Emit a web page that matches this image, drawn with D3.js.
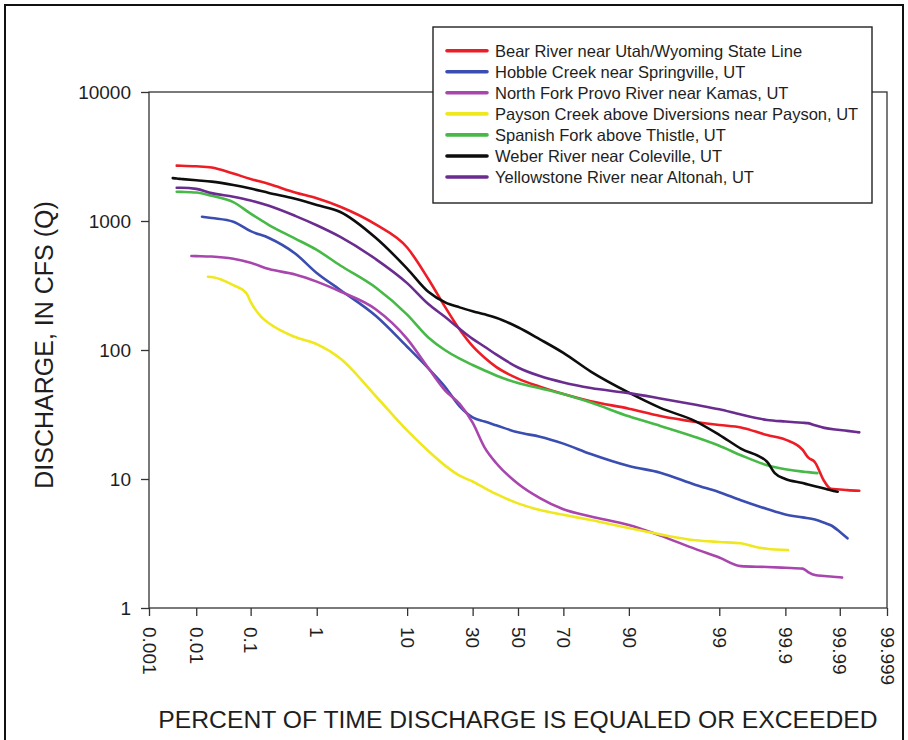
<!DOCTYPE html>
<html><head><meta charset="utf-8">
<script src="https://cdn.jsdelivr.net/npm/d3@7"></script>
<style>
html,body{margin:0;padding:0;background:#fff;}
svg{display:block;font-family:"Liberation Sans",Arial,Helvetica,sans-serif;}
</style></head><body>
<svg id="chart" width="908" height="740"></svg>
<script>
// ---------- data ----------
const xTickPercents = [0.001, 0.01, 0.1, 1, 10, 30, 50, 70, 90, 99, 99.9, 99.99, 99.999];
const xTickLabels = ["0.001","0.01","0.1","1","10","30","50","70","90","99","99.9","99.99","99.999"];
const yTickValues = [1, 10, 100, 1000, 10000];
const yTickLabels = ["1","10","100","1000","10000"];

const seriesNames = [
  "Bear River near Utah/Wyoming State Line",
  "Hobble Creek near Springville, UT",
  "North Fork Provo River near Kamas, UT",
  "Payson Creek above Diversions near Payson, UT",
  "Spanish Fork above Thistle, UT",
  "Weber River near Coleville, UT",
  "Yellowstone River near Altonah, UT"
];
const seriesColors = ["#ee1c25", "#3a4db0", "#a846ad", "#f0e81e", "#46b946", "#0d0d0d", "#6a2d8f"];

// [percent of time exceeded, discharge cfs]
const bearRiver = [[0.004,2685],[0.005,2680],[0.01,2655],[0.02,2600],[0.05,2330],[0.1,2120],[0.2,1935],[0.5,1665],[1,1500],[2,1290],[5,940],[10,623],[15,355],[20,215],[25,144],[30,107],[35,87],[40,74],[50,60],[60,52],[70,45.6],[80,40.1],[90,35.1],[95,30.8],[98,27.7],[99,26.2],[99.5,25.1],[99.8,21.9],[99.9,20.2],[99.95,16.8],[99.96,14.7],[99.97,13.5],[99.98,9.6],[99.985,8.4],[99.99,8.3],[99.993,8.2],[99.996,8.1]];
const hobbleCreek = [[0.013,1080],[0.02,1055],[0.05,988],[0.1,834],[0.2,739],[0.5,560],[1,395],[2,292],[5,184],[10,106],[15,72],[20,51.7],[25,36.6],[30,30.1],[35,27.9],[40,26.1],[50,23],[60,21.3],[70,18.8],[80,15.6],[90,12.6],[95,11.2],[98,9.0],[99,7.9],[99.5,6.84],[99.8,5.85],[99.9,5.31],[99.95,5.04],[99.97,4.85],[99.98,4.58],[99.985,4.38],[99.99,3.9],[99.993,3.47]];
const northForkProvo = [[0.008,535],[0.01,534],[0.02,530],[0.05,509],[0.1,474],[0.2,424],[0.5,385],[1,339],[2,284],[5,207],[10,122],[15,72.5],[20,48.5],[25,38.2],[30,27.3],[35,17.5],[40,13.3],[50,9.2],[60,7.12],[70,5.83],[80,5.12],[90,4.4],[95,3.64],[98,2.86],[99,2.46],[99.5,2.11],[99.8,2.08],[99.9,2.05],[99.95,2.02],[99.96,1.9],[99.97,1.8],[99.98,1.77],[99.99,1.73],[99.991,1.72]];
const paysonCreek = [[0.017,370],[0.02,368],[0.05,318],[0.085,275],[0.1,236],[0.15,181],[0.2,161],[0.5,126],[1,111],[2,86],[5,44],[10,23.8],[15,16.5],[20,12.7],[25,10.6],[30,9.56],[35,8.51],[40,7.66],[50,6.47],[60,5.75],[70,5.28],[80,4.81],[90,4.17],[95,3.72],[98,3.35],[99,3.25],[99.5,3.18],[99.7,2.97],[99.8,2.88],[99.91,2.81]];
const spanishFork = [[0.004,1687],[0.005,1683],[0.01,1663],[0.02,1567],[0.05,1400],[0.1,1140],[0.2,931],[0.5,731],[1,597],[2,452],[5,305],[10,188],[15,125],[20,99.5],[25,85.6],[30,76.5],[35,69.4],[40,63.5],[50,55.5],[60,50.5],[70,45.5],[80,39.1],[90,30.6],[95,25.8],[98,21.1],[99,18.1],[99.5,15.3],[99.8,12.8],[99.9,11.9],[99.95,11.4],[99.96,11.3],[99.973,11.1]];
const weberRiver = [[0.0033,2150],[0.004,2133],[0.005,2117],[0.01,2067],[0.02,2020],[0.05,1900],[0.1,1783],[0.2,1649],[0.5,1486],[1,1331],[2,1175],[5,741],[10,428],[15,283],[20,234],[25,214],[30,200],[35,189],[40,178],[50,150],[60,121],[70,95],[80,68],[90,46.7],[95,35.6],[98,28],[99,22],[99.5,17.2],[99.8,13.6],[99.85,11.1],[99.9,10],[99.95,9.3],[99.96,9.06],[99.97,8.78],[99.98,8.43],[99.985,8.19],[99.989,7.97]];
const yellowstoneRiver = [[0.004,1812],[0.005,1812],[0.01,1774],[0.02,1645],[0.05,1543],[0.1,1444],[0.2,1312],[0.5,1096],[1,927],[2,753],[5,507],[10,330],[15,227],[20,180],[25,146],[30,122],[35,106],[40,92.4],[50,73.2],[60,62.8],[70,56],[80,50.7],[90,46.3],[95,42.1],[98,37.6],[99,34.7],[99.5,31.6],[99.8,28.7],[99.9,27.9],[99.95,27.3],[99.96,27.1],[99.97,26.1],[99.98,24.9],[99.99,24],[99.993,23.6],[99.996,23]];

const seriesData = [bearRiver, hobbleCreek, northForkProvo, paysonCreek, spanishFork, weberRiver, yellowstoneRiver];

// ---------- helpers ----------
function normInv(p){
  const a=[-3.969683028665376e+01,2.209460984245205e+02,-2.759285104469687e+02,1.383577518672690e+02,-3.066479806614716e+01,2.506628277459239e+00];
  const b=[-5.447609879822406e+01,1.615858368580409e+02,-1.556989798598866e+02,6.680131188771972e+01,-1.328068155288572e+01];
  const c=[-7.784894002430293e-03,-3.223964580411365e-01,-2.400758277161838e+00,-2.549732539343734e+00,4.374664141464968e+00,2.938163982698783e+00];
  const d=[7.784695709041462e-03,3.224671290700398e-01,2.445134137142996e+00,3.754408661907416e+00];
  const pl=0.02425, ph=1-pl; let q,r;
  if(p<pl){q=Math.sqrt(-2*Math.log(p));return (((((c[0]*q+c[1])*q+c[2])*q+c[3])*q+c[4])*q+c[5])/((((d[0]*q+d[1])*q+d[2])*q+d[3])*q+1);}
  if(p<=ph){q=p-0.5;r=q*q;return (((((a[0]*r+a[1])*r+a[2])*r+a[3])*r+a[4])*r+a[5])*q/(((((b[0]*r+b[1])*r+b[2])*r+b[3])*r+b[4])*r+1);}
  q=Math.sqrt(-2*Math.log(1-p));return -(((((c[0]*q+c[1])*q+c[2])*q+c[3])*q+c[4])*q+c[5])/((((d[0]*q+d[1])*q+d[2])*q+d[3])*q+1);
}

// ---------- layout ----------
const L = 149, R = 887, T = 92, B = 608;
const svg = d3.select("#chart");
const textColor = "#1e1e1e";

svg.append("rect").attr("width",908).attr("height",740).attr("fill","#fff");
// outer frame
svg.append("rect").attr("x",5).attr("y",5).attr("width",898).attr("height",760)
  .attr("fill","none").attr("stroke","#111").attr("stroke-width",2);

const zScale = d3.scaleLinear()
  .domain([normInv(xTickPercents[0]/100), normInv(xTickPercents[xTickPercents.length-1]/100)])
  .range([L, R]);
const xOf = pct => zScale(normInv(pct/100));
const yScale = d3.scaleLog().domain([1, 10000]).range([B, T]);

// axes
const xAxis = d3.axisBottom(zScale)
  .tickValues(xTickPercents.map(p => normInv(p/100)))
  .tickFormat((d,i) => xTickLabels[i])
  .tickSize(8).tickSizeOuter(0);
const gx = svg.append("g").attr("transform",`translate(0,${B})`).call(xAxis);
gx.select(".domain").remove();
gx.selectAll(".tick line").attr("stroke","#333").attr("stroke-width",1.3);
gx.selectAll(".tick text")
  .attr("transform","rotate(90)")
  .attr("x",19).attr("y",0).attr("dy","0.36em")
  .attr("text-anchor","start")
  .attr("font-size",19).attr("fill",textColor);

const yAxis = d3.axisLeft(yScale)
  .tickValues(yTickValues)
  .tickFormat((d,i) => yTickLabels[i])
  .tickSize(8).tickSizeOuter(0).tickPadding(10);
const gy = svg.append("g").attr("transform",`translate(${L},0)`).call(yAxis);
gy.select(".domain").remove();
gy.selectAll(".tick line").attr("stroke","#333").attr("stroke-width",1.3);
gy.selectAll(".tick text").attr("font-size",19).attr("fill",textColor);

// plot frame
svg.append("rect").attr("x",L).attr("y",T).attr("width",R-L).attr("height",B-T)
  .attr("fill","none").attr("stroke","#333").attr("stroke-width",1.3);

// series
const line = d3.line()
  .x(d => xOf(d[0]))
  .y(d => yScale(d[1]))
  .curve(d3.curveMonotoneX);
const gLines = svg.append("g");
seriesData.forEach((s,i) => {
  gLines.append("path").datum(s)
    .attr("d", line)
    .attr("fill","none")
    .attr("stroke", seriesColors[i])
    .attr("stroke-width", 2.6)
    .attr("stroke-linejoin","round")
    .attr("stroke-linecap","round");
});

// axis titles
svg.append("text")
  .attr("x", 518).attr("y", 728)
  .attr("text-anchor","middle")
  .attr("font-size",24.7).attr("fill",textColor)
  .text("PERCENT OF TIME DISCHARGE IS EQUALED OR EXCEEDED");
svg.append("text")
  .attr("transform","translate(53,345) rotate(-90)")
  .attr("text-anchor","middle")
  .attr("font-size",25).attr("fill",textColor)
  .text("DISCHARGE, IN CFS (Q)");

// legend
const lg = svg.append("g");
lg.append("rect").attr("x",433).attr("y",27).attr("width",439).attr("height",176)
  .attr("fill","#fff").attr("stroke","#222").attr("stroke-width",1.4);
seriesNames.forEach((name,i) => {
  const yy = 50.7 + i*21.05;
  lg.append("line").attr("x1",447).attr("x2",487).attr("y1",yy).attr("y2",yy)
    .attr("stroke",seriesColors[i]).attr("stroke-width",3.6).attr("stroke-linecap","round");
  lg.append("text").attr("x",495).attr("y",yy).attr("dy","0.36em")
    .attr("font-size",16.5).attr("fill",textColor).text(name);
});
</script>
</body></html>
